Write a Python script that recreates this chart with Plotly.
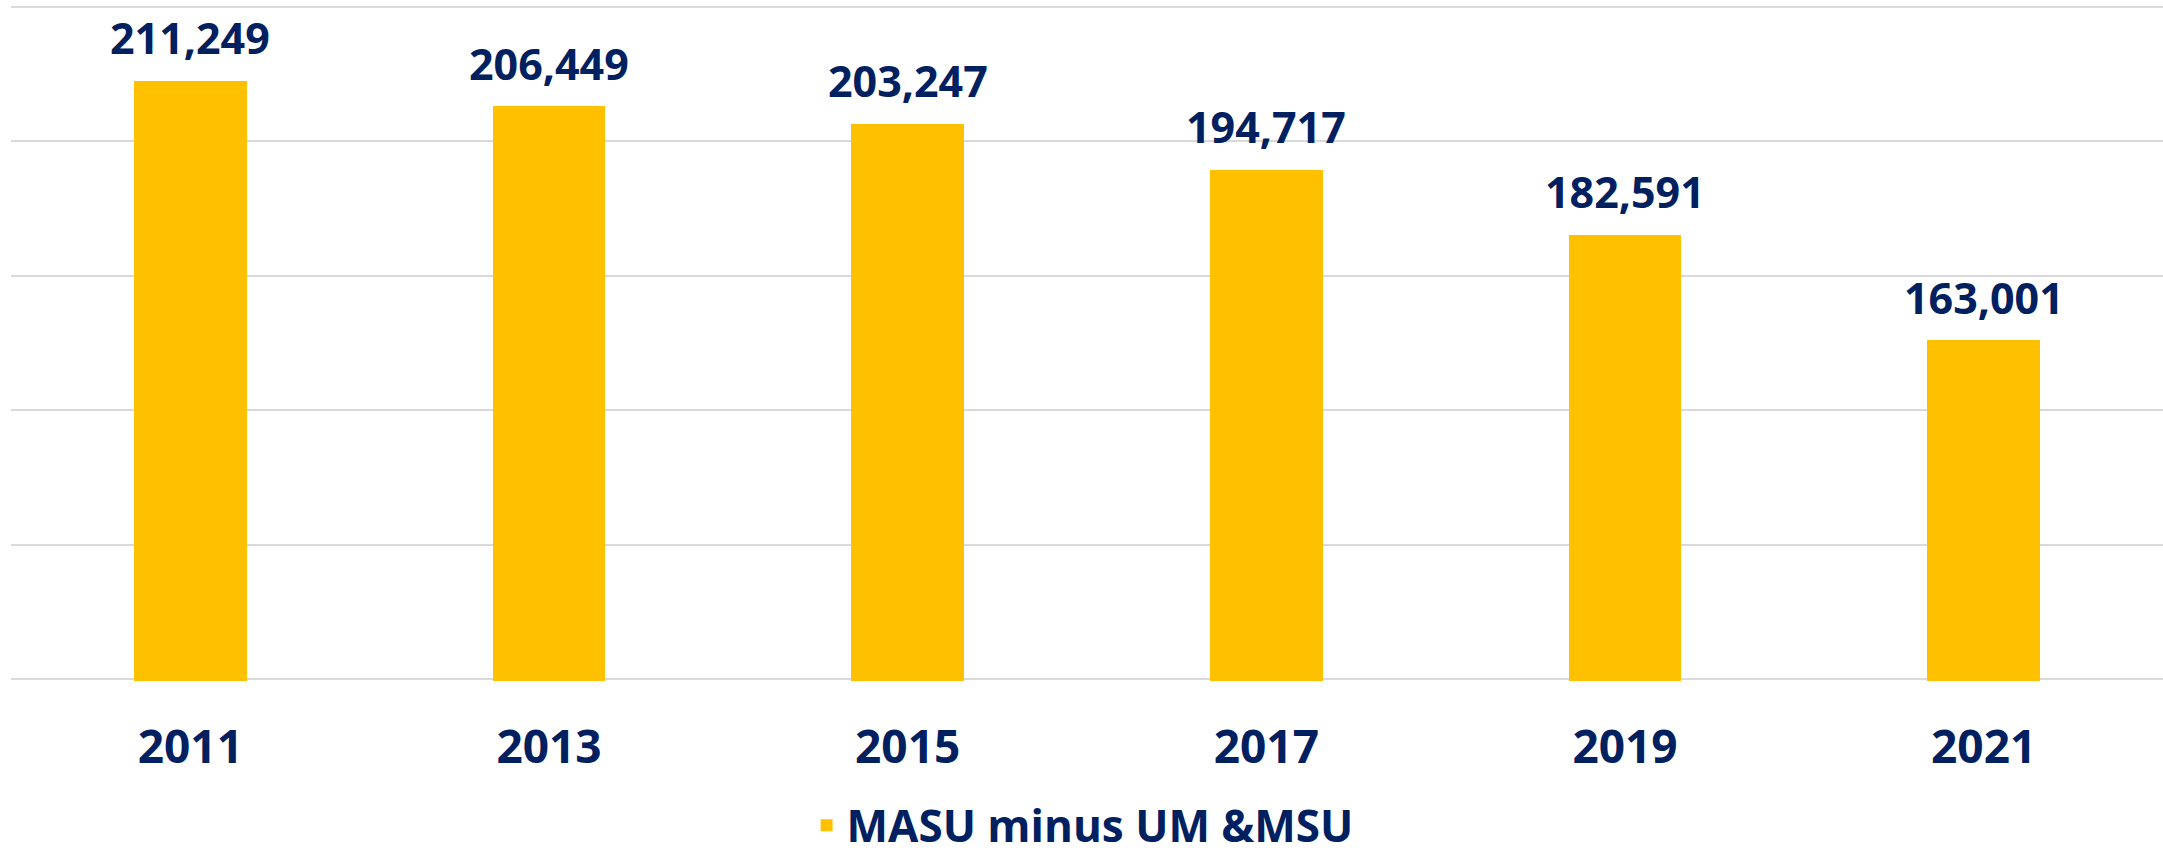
import plotly.graph_objects as go

years = ["2011", "2013", "2015", "2017", "2019", "2021"]
values = [211249, 206449, 203247, 194717, 182591, 163001]
series_name = "MASU minus UM &MSU"

BAR = "#FFC000"
NAVY = "#002060"
FONT = "Open Sans, Noto Sans, sans-serif"

fig = go.Figure()
fig.add_trace(go.Bar(
    x=list(range(len(years))), y=values, name=series_name,
    marker=dict(color=BAR, line=dict(width=0)),
    width=0.315, showlegend=True,
))

for i, v in enumerate(values):
    fig.add_annotation(x=i, y=v, text=f"{v:,}", showarrow=False,
                       yanchor="middle", yshift=43,
                       font=dict(family=FONT, size=43, color=NAVY, weight="bold"))

fig.update_layout(
    width=2163, height=855,
    margin=dict(l=11, r=0, t=5, b=174, autoexpand=False),
    paper_bgcolor="white", plot_bgcolor="white",
    font=dict(family=FONT, color=NAVY),
    bargap=0,
    xaxis=dict(
        range=[-0.5, 5.5],
        tickmode="array", tickvals=list(range(len(years))), ticktext=years,
        tickfont=dict(family=FONT, size=46, color=NAVY, weight="bold"),
        showgrid=False, zeroline=False, showline=False,
        ticks="", ticklabelstandoff=35,
    ),
    yaxis=dict(
        range=[99700, 225300], dtick=25000, tick0=100000,
        showticklabels=False, showgrid=True, gridcolor="#D9D9D9", gridwidth=2,
        zeroline=False, showline=False,
    ),
    legend=dict(
        orientation="h", x=0.3697, xanchor="left", y=-0.214, yanchor="middle",
        font=dict(family=FONT, size=44, color=NAVY, weight="bold"),
        bgcolor="rgba(0,0,0,0)", borderwidth=0,
    ),
)

fig.write_html("out.html", config={"displayModeBar": False},
               post_script="document.body.style.margin='0';")
